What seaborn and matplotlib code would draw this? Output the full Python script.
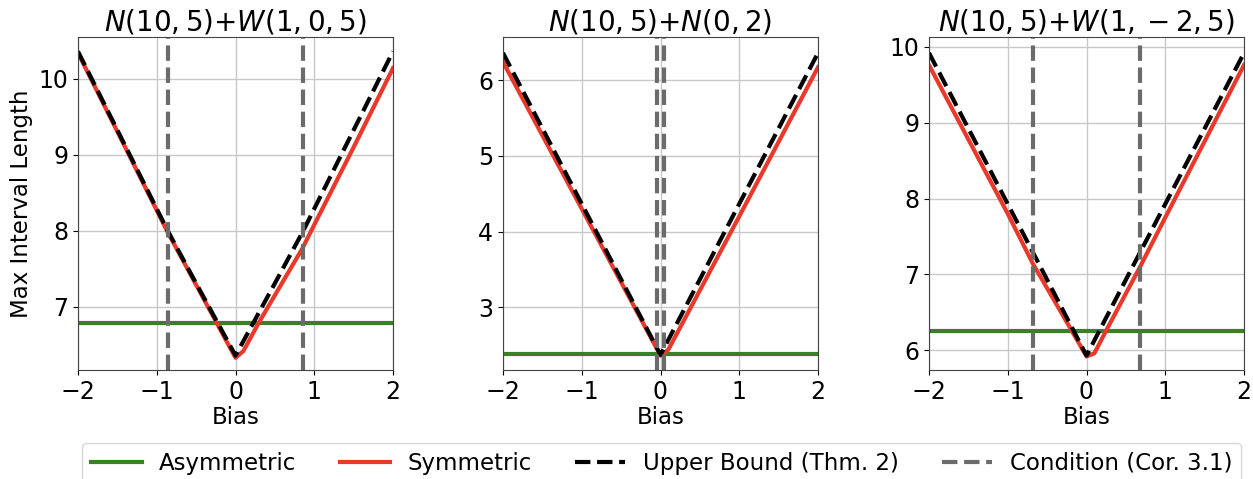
import matplotlib
matplotlib.use("Agg")
import matplotlib.pyplot as plt
import seaborn as sns
import numpy as np

# ---- data ----
titles = [r"$N(10,5)$+$W(1,0,5)$", r"$N(10,5)$+$N(0,2)$", r"$N(10,5)$+$W(1,-2,5)$"]

# panel 1
p1_bias_ub = [-2.0, -1.0, -0.86, -0.5, 0.0, 0.5, 0.86, 1.0, 2.0]
p1_ub = [10.36, 8.29, 8.00, 7.31, 6.36, 7.31, 8.00, 8.29, 10.36]
p1_bias_sym = [-2.0, -1.0, -0.86, -0.5, 0.0, 0.1, 0.3, 0.6, 0.85, 1.0, 1.5, 2.0]
p1_sym = [10.34, 8.27, 7.98, 7.29, 6.33, 6.42, 6.80, 7.33, 7.77, 8.08, 9.10, 10.14]
p1_asym = 6.79
p1_cond = [-0.86, 0.86]
p1_yticks = [7, 8, 9, 10]
p1_ylim = (6.17, 10.55)

# panel 2
p2_bias_ub = [-2.0, 0.0, 2.0]
p2_ub = [6.36, 2.37, 6.36]
p2_bias_sym = [-2.0, -1.0, 0.0, 0.1, 1.0, 2.0]
p2_sym = [6.24, 4.30, 2.36, 2.44, 4.20, 6.17]
p2_asym = 2.38
p2_cond = [-0.04, 0.04]
p2_yticks = [3, 4, 5, 6]
p2_ylim = (2.17, 6.57)

# panel 3
p3_bias_ub = [-2.0, -0.68, 0.0, 0.68, 2.0]
p3_ub = [9.92, 7.29, 5.93, 7.29, 9.92]
p3_bias_sym = [-2.0, -1.0, -0.68, -0.3, 0.0, 0.1, 0.25, 0.68, 1.0, 2.0]
p3_sym = [9.76, 7.80, 7.14, 6.46, 5.92, 5.96, 6.26, 7.10, 7.75, 9.76]
p3_asym = 6.26
p3_cond = [-0.68, 0.68]
p3_yticks = [6, 7, 8, 9, 10]
p3_ylim = (5.74, 10.13)

xticks = [-2, -1, 0, 1, 2]
labels = ["Asymmetric", "Symmetric", "Upper Bound (Thm. 2)", "Condition (Cor. 3.1)"]

GREEN = "#3b7f26"
RED = "#e8392b"
BLACK = "black"
GRAY = "#6b6b6b"

plt.rcParams["font.family"] = ["DejaVu Sans"]

fig = plt.figure(figsize=(12.53, 4.79), dpi=100)
lefts = [78 / 1253, 503 / 1253, 929 / 1253]
w = 315 / 1253
bottom = 1 - 370 / 479
h = 333 / 479

panels = [
    (p1_bias_ub, p1_ub, p1_bias_sym, p1_sym, p1_asym, p1_cond, p1_yticks, p1_ylim),
    (p2_bias_ub, p2_ub, p2_bias_sym, p2_sym, p2_asym, p2_cond, p2_yticks, p2_ylim),
    (p3_bias_ub, p3_ub, p3_bias_sym, p3_sym, p3_asym, p3_cond, p3_yticks, p3_ylim),
]

handles = None
for i, (bx, ub, sx, sym, asym, cond, yt, yl) in enumerate(panels):
    ax = fig.add_axes([lefts[i], bottom, w, h])
    ax.set_axisbelow(True)
    ax.grid(True, color="#c8c8c8", linewidth=1.0)
    ax.axhline(asym, color=GREEN, linewidth=3, label=labels[0])
    sns.lineplot(x=sx, y=sym, ax=ax, color=RED, linewidth=3, label=labels[1], sort=False)
    sns.lineplot(x=bx, y=ub, ax=ax, color=BLACK, linewidth=3, linestyle="--",
                 label=labels[2], sort=False)
    for j, c in enumerate(cond):
        ax.axvline(c, color=GRAY, linewidth=3, linestyle="--",
                   label=labels[3] if j == 0 else None)
    ax.set_xlim(-2, 2)
    ax.set_ylim(*yl)
    ax.set_xticks(xticks)
    ax.set_yticks(yt)
    ax.tick_params(labelsize=17)
    ax.set_xlabel("Bias", fontsize=16.5, labelpad=2)
    if i == 0:
        ax.set_ylabel("Max Interval Length", fontsize=16.5)
    ax.set_title(titles[i], fontsize=20, pad=5)
    for s in ax.spines.values():
        s.set_color("#444444")
    if handles is None:
        handles, labs = ax.get_legend_handles_labels()
    if ax.get_legend() is not None:
        ax.get_legend().remove()

order = [labs.index(l) for l in labels]
fig.legend([handles[k] for k in order], labels, loc="center",
           bbox_to_anchor=(0.528, 0.033), ncol=4, fontsize=16.5,
           handlelength=2.2, handletextpad=0.75, columnspacing=1.9, frameon=True)

fig.savefig("out.png", dpi=100)
